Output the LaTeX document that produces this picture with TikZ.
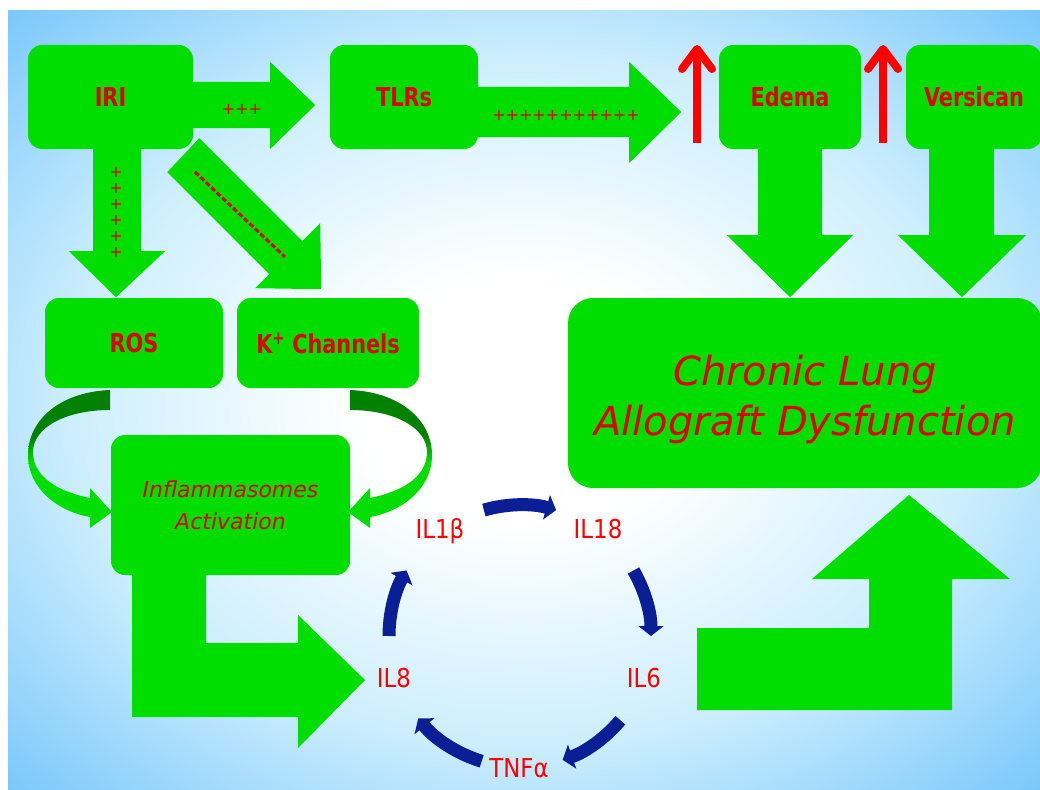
\documentclass[tikz,border=0pt]{standalone}
\usepackage{fontspec}
\setmainfont{DejaVu Sans}
\newfontfamily\narrowsans{DejaVu Sans}[FakeStretch=0.88]
\newfontfamily\boxsans{DejaVu Sans}[FakeStretch=0.8]
\usepackage{tikz}
\usepackage{xcolor}
\usetikzlibrary{arrows.meta,calc}
\definecolor{boxgreen}{RGB}{0,221,0}
\definecolor{curvedark}{RGB}{0,130,0}
\definecolor{labelred}{RGB}{225,0,0}
\definecolor{cycleblue}{RGB}{10,30,150}
\definecolor{bgmid}{RGB}{205,238,253}
\definecolor{bgcorner}{RGB}{120,198,250}
\pgfdeclareradialshading{slide-back}{\pgfpoint{0bp}{0bp}}{color(0bp)=(white); color(8bp)=(white); color(22bp)=(bgmid); color(36bp)=(bgcorner); color(50bp)=(bgcorner)}
\pgfdeclareverticalshading{curve-shade}{100bp}{color(0bp)=(boxgreen); color(49bp)=(boxgreen); color(58bp)=(curvedark); color(100bp)=(curvedark)}
\tikzset{
    green-box/.style = {fill=boxgreen, rectangle, rounded corners=14pt, inner sep=0pt, text=labelred, font=\boxsans\bfseries\fontsize{26}{30}\selectfont},
    block-arrow/.style = {fill=boxgreen},
    plus-text/.style = {text=labelred, inner sep=0pt, font=\fontsize{16}{16}\selectfont},
    cycle-label/.style = {text=red, inner sep=0pt, anchor=base, font=\narrowsans\fontsize{26}{30}\selectfont},
    cycle-arrow/.style = {draw=cycleblue, line width=13pt, -{Triangle[length=10pt,width=25pt]}},
    rise-arrow/.style = {draw=red, line width=8pt, -{Straight Barb[length=20pt,width=30pt,round]}},
    curve-arrow/.pic = {
        \shade[shading=curve-shade] (110,390) .. controls (60,392) and (28,420) .. (28,455)
            .. controls (28,490) and (60,512) .. (90,517) -- (90,528) -- (112,512) -- (90,488) -- (90,498)
            .. controls (60,492) and (33,478) .. (33,452) .. controls (33,428) and (65,410) .. (110,410) -- cycle;
    },
}
\begin{document}
\begin{tikzpicture}[x=1pt,y=-1pt]
\useasboundingbox (0,0) rectangle (1040,789);
\shade[shading=slide-back] (8,11) rectangle (1040,789);

% top row
\node[green-box, minimum width=165pt, minimum height=104pt] (iri) at (110.5,97) {IRI};
\node[green-box, minimum width=148pt, minimum height=104pt] (tlrs) at (404,97) {TLRs};
\node[green-box, minimum width=142pt, minimum height=104pt] (edema) at (790,97) {Edema};
\node[green-box, minimum width=136pt, minimum height=104pt] (versican) at (974,97) {Versican};

\fill[block-arrow] ($(iri.east)+(0,-15)$) -- ++(77,0) -- ++(0,-20) -- ++(45,43) -- ++(-45,44) -- ++(0,-21) -- ++(-77,0) -- cycle;
\fill[block-arrow] ($(tlrs.east)+(0,-10)$) -- ++(151,0) -- ++(0,-25) -- ++(52,50) -- ++(-52,51) -- ++(0,-26) -- ++(-151,0) -- cycle;
\fill[block-arrow] ($(iri.south)+(-17.5,0)$) -- ++(0,102) -- ++(-24,0) -- ++(47,46) -- ++(49,-46) -- ++(-24,0) -- ++(0,-102) -- cycle;
\fill[block-arrow] ($(iri.south east)+(-26,23)$) -- ++(102,102) -- ++(-14,14) -- ++(66,1) -- ++(-1,-66) -- ++(-18,18) -- ++(-103,-103) -- cycle;
\fill[block-arrow] ($(edema.south)+(-32,0)$) -- ++(0,86) -- ++(-31,0) -- ++(63,62) -- ++(63,-62) -- ++(-31,0) -- ++(0,-86) -- cycle;
\fill[block-arrow] ($(versican.south)+(-45,0)$) -- ++(0,86) -- ++(-31,0) -- ++(64,62) -- ++(64,-62) -- ++(-32,0) -- ++(0,-86) -- cycle;

\node[plus-text] (iri-plus) at (242,109) {+++};
\node[plus-text] (tlrs-plus) at (566,115) {+++++++++++};
\foreach \k in {0,...,5}
    \node[plus-text] (ros-plus-\k) at (116,{172+16*\k}) {+};
\draw[red!85!black, line width=3pt, dash pattern=on 5pt off 2.5pt] (195,172) -- (285,257);

\draw[rise-arrow] (697,143) -- (697,45);
\draw[rise-arrow] (883,143) -- (883,45);

% middle
\node[green-box, minimum width=178pt, minimum height=90pt] (ros) at (134,343) {ROS};
\node[green-box, minimum width=182pt, minimum height=90pt] (kchan) at (328,343) {K\textsuperscript{+} Channels};
\node[green-box, minimum width=474pt, minimum height=190pt, rounded corners=25pt, align=center,
      font=\itshape\fontsize{40}{50}\selectfont] (clad) at (805,393)
      {\rule{0pt}{44pt}Chronic Lung\\Allograft Dysfunction};

\pic at (0,0) {curve-arrow};
\pic[xscale=-1] at (460,0) {curve-arrow};

\fill[block-arrow] ($(230.5,575)+(-98.5,0)$) -- ++(74,0) -- ++(0,68) -- ++(92,0) -- ++(0,-28) -- ++(67,65) -- ++(-67,68) -- ++(0,-31) -- ++(-166,0) -- cycle;
\node[green-box, minimum width=239pt, minimum height=140pt, align=center,
      font=\itshape\fontsize{22}{32}\selectfont] (infl) at (230.5,505) {Inflammasomes\\Activation};

\fill[block-arrow] (697,628) -- (869,628) -- (869,579) -- (812,579) -- (909,495) -- (1010,579) -- (952,579) -- (952,710) -- (697,710) -- cycle;

% cytokine cycle
\coordinate (cycle-center) at (520,636);
\node[cycle-label] (il1b) at (440,538) {IL1β};
\node[cycle-label] (il18) at (598,538) {IL18};
\node[cycle-label] (il6) at (644,687) {IL6};
\node[cycle-label] (tnfa) at (519,777) {TNFα};
\node[cycle-label] (il8) at (394,687) {IL8};
\draw[cycle-arrow] ($(cycle-center)+(-106:131)$) arc[start angle=-106, end angle=-74, radius=131];
\draw[cycle-arrow] ($(cycle-center)+(-30:131)$) arc[start angle=-30, end angle=0, radius=131];
\draw[cycle-arrow] ($(cycle-center)+(40:131)$) arc[start angle=40, end angle=71, radius=131];
\draw[cycle-arrow] ($(cycle-center)+(107:131)$) arc[start angle=107, end angle=141, radius=131];
\draw[cycle-arrow] ($(cycle-center)+(180:131)$) arc[start angle=180, end angle=210, radius=131];
\end{tikzpicture}
\end{document}
